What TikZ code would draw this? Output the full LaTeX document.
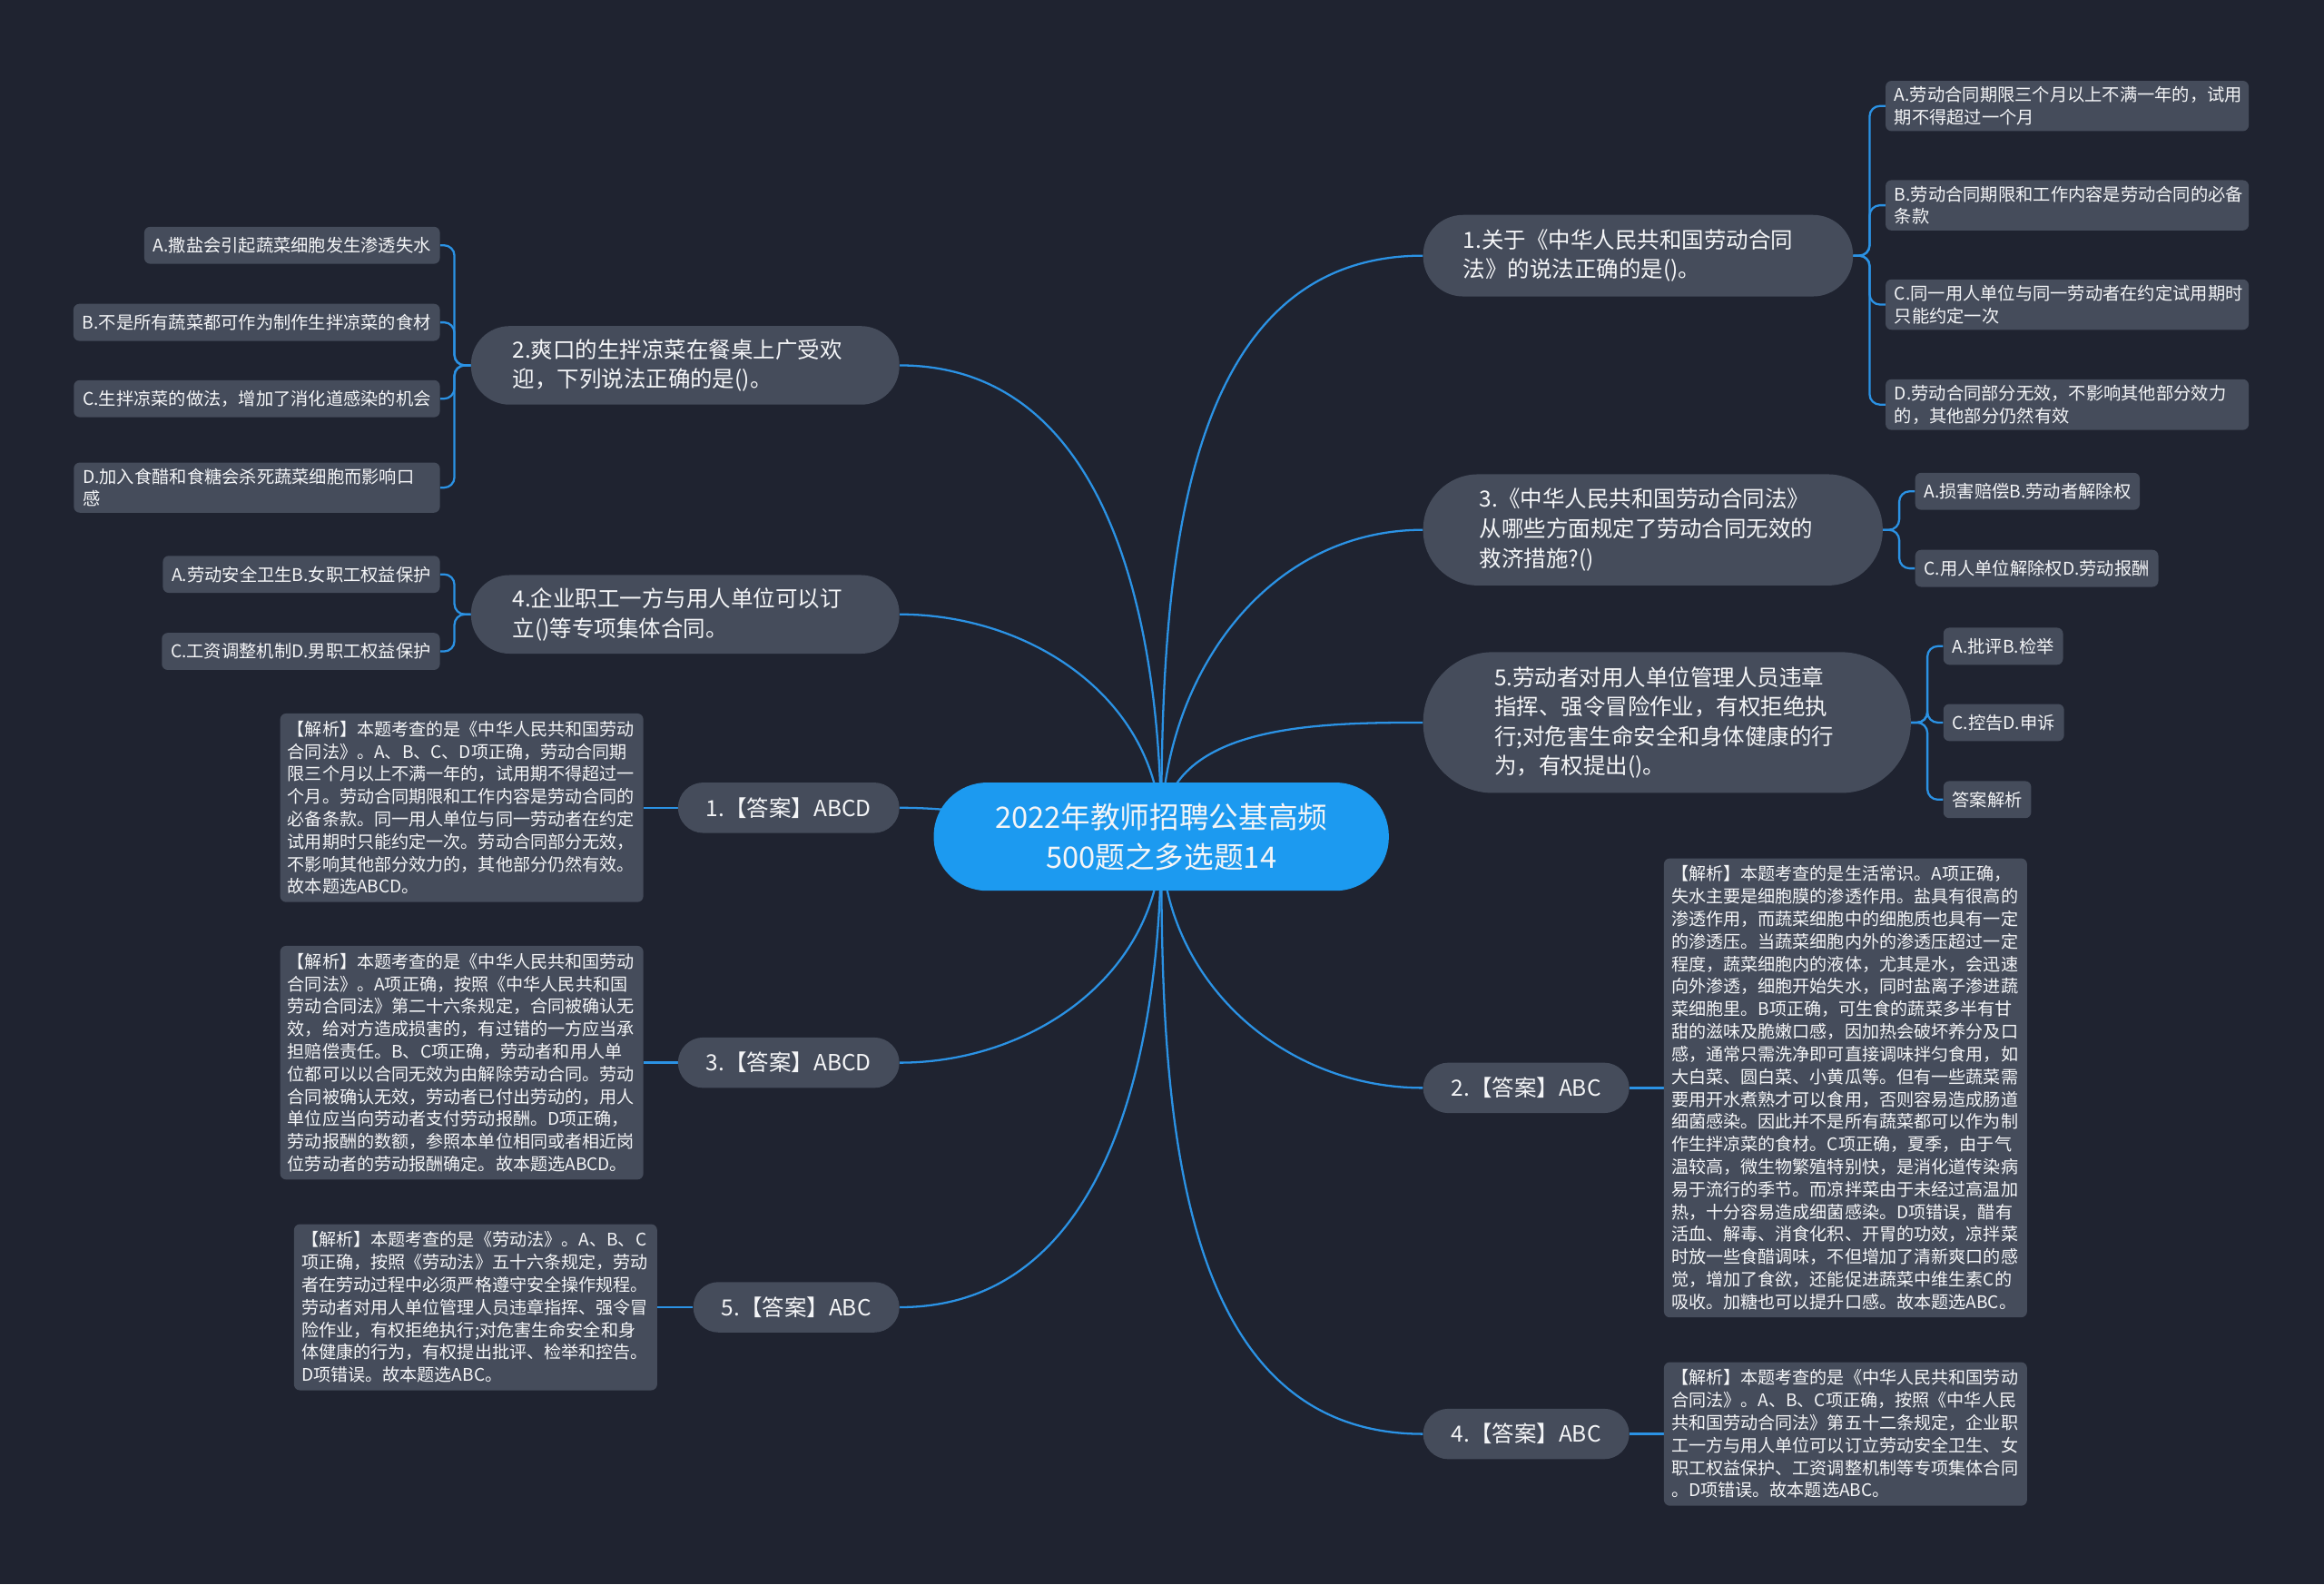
\documentclass[tikz,border=0pt]{standalone}
\usepackage{fontspec}
\setmainfont{Noto Sans CJK SC}
\usepackage{tikz}
\usetikzlibrary{positioning}
\pgfdeclarelayer{bg}
\pgfsetlayers{bg,main}
\definecolor{bgnavy}{HTML}{1F2330}
\definecolor{nodegray}{HTML}{454C5B}
\definecolor{rootblue}{HTML}{1C9AF0}
\definecolor{linkblue}{HTML}{2B92E4}
\definecolor{labelwhite}{HTML}{F4F5F7}
\newcommand{\rootfont}{\fontsize{20}{27}\selectfont}
\newcommand{\questfont}{\fontsize{15}{20}\selectfont}
\newcommand{\leaffont}{\fontsize{11.8}{15}\selectfont}
\newcommand{\notefont}{\fontsize{11.7}{15.2}\selectfont}
\tikzset{
  root/.style={
    rectangle,
    rounded corners=36pt,
    fill=rootblue,
    text=labelwhite,
    font=\rootfont,
    align=center,
    minimum width=307pt,
    minimum height=73pt,
    inner sep=0pt
  },
  quest/.style={
    rectangle,
    fill=nodegray,
    text=labelwhite,
    font=\questfont,
    align=left,
    inner ysep=3pt
  },
  answer/.style={
    rectangle,
    rounded corners=17pt,
    fill=nodegray,
    text=labelwhite,
    font=\questfont,
    minimum height=34pt,
    inner xsep=19pt,
    inner ysep=0pt
  },
  leaf/.style={
    rectangle,
    rounded corners=4pt,
    fill=nodegray,
    text=labelwhite,
    font=\leaffont,
    align=left,
    minimum height=25pt,
    inner xsep=6pt,
    inner ysep=4pt
  },
  note/.style={
    rectangle,
    rounded corners=4pt,
    fill=nodegray,
    text=labelwhite,
    font=\notefont,
    align=left,
    text width=235pt,
    inner xsep=5pt,
    inner ysep=5pt
  },
  link/.style={draw=linkblue,line width=1.4pt},
  branch/.style={draw=linkblue,line width=1.4pt,rounded corners=7pt}
}
\begin{document}
\begin{tikzpicture}[x=1pt,y=-1pt]
    \node[root] (root) at (783.5,564.5) {2022年教师招聘公基高频\\500题之多选题14};

    \node[quest,anchor=west,text width=236pt,inner xsep=27pt,minimum height=55pt,rounded corners=27pt] (q1) at (960,172.5) {1.关于《中华人民共和国劳动合同\\法》的说法正确的是()。};
    \node[quest,anchor=west,text width=234pt,inner xsep=38pt,minimum height=75pt,rounded corners=37pt] (q3) at (960,357.5) {3.《中华人民共和国劳动合同法》\\从哪些方面规定了劳动合同无效的\\救济措施?()};
    \node[quest,anchor=west,text width=233pt,inner xsep=48pt,minimum height=95pt,rounded corners=47pt] (q5) at (960,487.5) {5.劳动者对用人单位管理人员违章\\指挥、强令冒险作业，有权拒绝执\\行;对危害生命安全和身体健康的行\\为，有权提出()。};
    \node[answer,anchor=west] (a2) at (960,734) {2.【答案】ABC};
    \node[answer,anchor=west] (a4) at (960,967.5) {4.【答案】ABC};

    \node[quest,anchor=east,text width=233pt,inner xsep=28pt,minimum height=53pt,rounded corners=26pt] (q2) at (607,246.5) {2.爽口的生拌凉菜在餐桌上广受欢\\迎，下列说法正确的是()。};
    \node[quest,anchor=east,text width=233pt,inner xsep=28pt,minimum height=53pt,rounded corners=26pt] (q4) at (607,414.5) {4.企业职工一方与用人单位可以订\\立()等专项集体合同。};
    \node[answer,anchor=east] (a1) at (607,545) {1.【答案】ABCD};
    \node[answer,anchor=east] (a3) at (607,717) {3.【答案】ABCD};
    \node[answer,anchor=east] (a5) at (607,882) {5.【答案】ABC};

    \node[leaf,anchor=west,text width=233pt] (q1a) at (1272,71.5) {A.劳动合同期限三个月以上不满一年的，试用\\期不得超过一个月};
    \node[leaf,anchor=west,text width=233pt] (q1b) at (1272,138.5) {B.劳动合同期限和工作内容是劳动合同的必备\\条款};
    \node[leaf,anchor=west,text width=233pt] (q1c) at (1272,205.5) {C.同一用人单位与同一劳动者在约定试用期时\\只能约定一次};
    \node[leaf,anchor=west,text width=233pt] (q1d) at (1272,273) {D.劳动合同部分无效，不影响其他部分效力\\的，其他部分仍然有效};
    \node[leaf,anchor=west] (q3a) at (1292,331.5) {A.损害赔偿B.劳动者解除权};
    \node[leaf,anchor=west] (q3b) at (1292,383.5) {C.用人单位解除权D.劳动报酬};
    \node[leaf,anchor=west] (q5a) at (1311,436) {A.批评B.检举};
    \node[leaf,anchor=west] (q5b) at (1311,487.5) {C.控告D.申诉};
    \node[leaf,anchor=west] (q5c) at (1311,539.5) {答案解析};

    \node[leaf,anchor=east] (q2a) at (297,165.5) {A.撒盐会引起蔬菜细胞发生渗透失水};
    \node[leaf,anchor=east] (q2b) at (297,217.5) {B.不是所有蔬菜都可作为制作生拌凉菜的食材};
    \node[leaf,anchor=east] (q2c) at (297,269) {C.生拌凉菜的做法，增加了消化道感染的机会};
    \node[leaf,anchor=east,text width=235pt] (q2d) at (297,329) {D.加入食醋和食糖会杀死蔬菜细胞而影响口\\感};
    \node[leaf,anchor=east] (q4a) at (297,387.5) {A.劳动安全卫生B.女职工权益保护};
    \node[leaf,anchor=east] (q4b) at (297,439.5) {C.工资调整机制D.男职工权益保护};

    \node[note,left=23pt of a1] (e1) {【解析】本题考查的是《中华人民共和国劳动\\合同法》。A、B、C、D项正确，劳动合同期\\限三个月以上不满一年的，试用期不得超过一\\个月。劳动合同期限和工作内容是劳动合同的\\必备条款。同一用人单位与同一劳动者在约定\\试用期时只能约定一次。劳动合同部分无效，\\不影响其他部分效力的，其他部分仍然有效。\\故本题选ABCD。};
    \node[note,left=23pt of a3] (e3) {【解析】本题考查的是《中华人民共和国劳动\\合同法》。A项正确，按照《中华人民共和国\\劳动合同法》第二十六条规定，合同被确认无\\效，给对方造成损害的，有过错的一方应当承\\担赔偿责任。B、C项正确，劳动者和用人单\\位都可以以合同无效为由解除劳动合同。劳动\\合同被确认无效，劳动者已付出劳动的，用人\\单位应当向劳动者支付劳动报酬。D项正确，\\劳动报酬的数额，参照本单位相同或者相近岗\\位劳动者的劳动报酬确定。故本题选ABCD。};
    \node[note,left=24pt of a5] (e5) {【解析】本题考查的是《劳动法》。A、B、C\\项正确，按照《劳动法》五十六条规定，劳动\\者在劳动过程中必须严格遵守安全操作规程。\\劳动者对用人单位管理人员违章指挥、强令冒\\险作业，有权拒绝执行;对危害生命安全和身\\体健康的行为，有权提出批评、检举和控告。\\D项错误。故本题选ABC。};
    \node[note,right=23pt of a2] (e2) {【解析】本题考查的是生活常识。A项正确，\\失水主要是细胞膜的渗透作用。盐具有很高的\\渗透作用，而蔬菜细胞中的细胞质也具有一定\\的渗透压。当蔬菜细胞内外的渗透压超过一定\\程度，蔬菜细胞内的液体，尤其是水，会迅速\\向外渗透，细胞开始失水，同时盐离子渗进蔬\\菜细胞里。B项正确，可生食的蔬菜多半有甘\\甜的滋味及脆嫩口感，因加热会破坏养分及口\\感，通常只需洗净即可直接调味拌匀食用，如\\大白菜、圆白菜、小黄瓜等。但有一些蔬菜需\\要用开水煮熟才可以食用，否则容易造成肠道\\细菌感染。因此并不是所有蔬菜都可以作为制\\作生拌凉菜的食材。C项正确，夏季，由于气\\温较高，微生物繁殖特别快，是消化道传染病\\易于流行的季节。而凉拌菜由于未经过高温加\\热，十分容易造成细菌感染。D项错误，醋有\\活血、解毒、消食化积、开胃的功效，凉拌菜\\时放一些食醋调味，不但增加了清新爽口的感\\觉，增加了食欲，还能促进蔬菜中维生素C的\\吸收。加糖也可以提升口感。故本题选ABC。};
    \node[note,right=23pt of a4] (e4) {【解析】本题考查的是《中华人民共和国劳动\\合同法》。A、B、C项正确，按照《中华人民\\共和国劳动合同法》第五十二条规定，企业职\\工一方与用人单位可以订立劳动安全卫生、女\\职工权益保护、工资调整机制等专项集体合同\\。D项错误。故本题选ABC。};

    \begin{pgfonlayer}{bg}
    \fill[bgnavy] (0,0) rectangle (1568,1069);

    \draw[link] (root.center) to[out=90,in=180] (q1.west);
    \draw[link] (root.center) to[out=90,in=180] (q3.west);
    \draw[link] (root.center) to[out=90,in=180] (q5.west);
    \draw[link] (root.center) to[out=270,in=180] (a2.west);
    \draw[link] (root.center) to[out=270,in=180] (a4.west);
    \draw[link] (root.center) to[out=90,in=0] (q2.east);
    \draw[link] (root.center) to[out=90,in=0] (q4.east);
    \draw[link] (root.center) to[out=180,in=0] (a1.east);
    \draw[link] (root.center) to[out=270,in=0] (a3.east);
    \draw[link] (root.center) to[out=270,in=0] (a5.east);

    \draw[branch] (q1.east) -- ++(11,0) |- (q1a.west);
    \draw[branch] (q1.east) -- ++(11,0) |- (q1b.west);
    \draw[branch] (q1.east) -- ++(11,0) |- (q1c.west);
    \draw[branch] (q1.east) -- ++(11,0) |- (q1d.west);
    \draw[branch] (q3.east) -- ++(11,0) |- (q3a.west);
    \draw[branch] (q3.east) -- ++(11,0) |- (q3b.west);
    \draw[branch] (q5.east) -- ++(11,0) |- (q5a.west);
    \draw[branch] (q5.east) -- ++(11,0) |- (q5b.west);
    \draw[branch] (q5.east) -- ++(11,0) |- (q5c.west);
    \draw[branch] (q2.west) -- ++(-11,0) |- (q2a.east);
    \draw[branch] (q2.west) -- ++(-11,0) |- (q2b.east);
    \draw[branch] (q2.west) -- ++(-11,0) |- (q2c.east);
    \draw[branch] (q2.west) -- ++(-11,0) |- (q2d.east);
    \draw[branch] (q4.west) -- ++(-11,0) |- (q4a.east);
    \draw[branch] (q4.west) -- ++(-11,0) |- (q4b.east);

    \draw[link] (a1) -- (e1);
    \draw[link] (a3) -- (e3);
    \draw[link] (a5) -- (e5);
    \draw[link] (a2) -- (e2);
    \draw[link] (a4) -- (e4);
    \end{pgfonlayer}
  \end{tikzpicture}
\end{document}
